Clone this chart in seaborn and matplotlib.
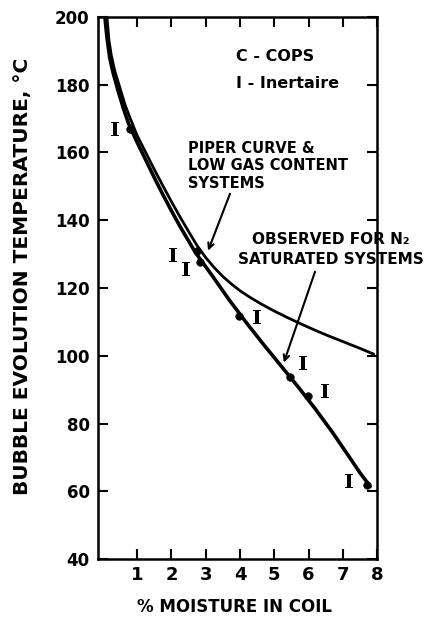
import matplotlib
matplotlib.use('Agg')
import matplotlib.pyplot as plt
import seaborn as sns

# Piper curve & low gas content systems (% moisture, deg C)
piper_x = [0.12, 0.18, 0.25, 0.35, 0.5, 0.65, 0.8, 1.0, 1.25, 1.5, 1.75, 2.0, 2.25, 2.5, 2.75,
           3.0, 3.25, 3.5, 3.75, 4.0, 4.3, 4.6, 5.0, 5.4, 5.8, 6.2, 6.6, 7.0, 7.45, 7.9]
piper_y = [200, 193, 188.5, 184, 179, 174, 170, 165, 160, 155, 150.2, 145.5, 141, 136.7, 132.5,
           129, 126, 123.4, 121.2, 119.2, 117.2, 115.4, 113.2, 111.2, 109.3, 107.5, 105.8, 104.2, 102.4, 100.5]

# observed for N2 saturated systems
n2_x = [0.06, 0.12, 0.2, 0.3, 0.45, 0.6, 0.75, 1.0, 1.25, 1.5, 1.75, 2.0, 2.25, 2.5, 2.7,
        3.2, 3.7, 4.2, 4.7, 5.2, 5.7, 6.2, 6.7, 7.2, 7.5, 7.8]
n2_y = [200, 194, 188, 183.5, 178, 173, 168.5, 163, 157.8, 152.6, 147.6, 142.8, 138.2, 133.9, 130.5,
        123.5, 116.3, 109.6, 103.2, 97, 90.8, 84.3, 77.4, 70, 65.5, 61.5]

# C = COPS (dots)
cops_x = [0.8, 2.75, 2.84, 3.98, 5.47, 5.99, 7.7]
cops_y = [167, 131, 127.7, 111.8, 93.8, 88, 62]

# I = Inertaire
inert_x = [0.36, 2.05, 2.43, 4.5, 5.84, 6.48, 7.18]
inert_y = [167, 129.8, 125.7, 111.3, 98, 89.7, 63]

x_ticks = [1, 2, 3, 4, 5, 6, 7, 8]
y_ticks = [40, 60, 80, 100, 120, 140, 160, 180, 200]

sns.set_style('ticks')
plt.rcParams['font.family'] = ['DejaVu Sans']
plt.rcParams['mathtext.fontset'] = 'dejavuserif'
plt.rcParams['text.color'] = 'black'
plt.rcParams['axes.labelcolor'] = 'black'
plt.rcParams['xtick.color'] = 'black'
plt.rcParams['ytick.color'] = 'black'

fig = plt.figure(figsize=(4.28, 6.22), dpi=100)
ax = fig.add_axes([0.229, 0.101, 0.652, 0.872])

sns.lineplot(x=piper_x, y=piper_y, color='black', lw=2.0, sort=False, ax=ax)
sns.lineplot(x=n2_x, y=n2_y, color='black', lw=2.6, sort=False, ax=ax)
sns.scatterplot(x=cops_x, y=cops_y, color='black', s=30, edgecolor='black', ax=ax, zorder=3)
sns.scatterplot(x=inert_x, y=inert_y, marker=r'$\mathbf{I}$', color='black', s=100,
                linewidth=0, ax=ax, zorder=3)

ax.set_xlim(-0.14, 8.0)
ax.set_ylim(40, 200)
ax.set_xticks(x_ticks)
ax.set_yticks(y_ticks)
ax.set_xticklabels([str(t) for t in x_ticks], fontsize=13, fontweight='bold')
ax.set_yticklabels([str(t) for t in y_ticks], fontsize=12, fontweight='bold')
ax.tick_params(axis='both', direction='in', top=True, right=True, length=7, width=1.5)
ax.tick_params(axis='y', pad=6)
ax.tick_params(axis='x', pad=5)
for sp in ax.spines.values():
    sp.set_visible(True)
    sp.set_linewidth(1.8)
    sp.set_color('black')

ax.set_xlabel('% MOISTURE IN COIL', fontsize=12, fontweight='bold')
ax.set_ylabel('BUBBLE EVOLUTION TEMPERATURE, °C', fontsize=14.5, fontweight='bold')
ax.xaxis.set_label_coords(0.49, -0.072)
ax.yaxis.set_label_coords(-0.235, 0.522)

# legend-like notes
ax.text(3.89, 188.2, 'C - COPS', fontsize=11.5, fontweight='bold', va='center')
ax.text(3.89, 180.2, 'I - Inertaire', fontsize=11.5, fontweight='bold', va='center')

ax.text(2.49, 163.4, 'PIPER CURVE &\nLOW GAS CONTENT\nSYSTEMS', fontsize=10.5,
        fontweight='bold', va='top', ha='left', linespacing=1.2)
ax.text(6.66, 136.6, 'OBSERVED FOR N₂\nSATURATED SYSTEMS', fontsize=11,
        fontweight='bold', va='top', ha='center', linespacing=1.45, clip_on=False)

ax.annotate('', xy=(3.07, 131), xytext=(3.71, 147.8),
            arrowprops=dict(arrowstyle='->', lw=1.5, color='black',
                            shrinkA=0, shrinkB=0, mutation_scale=10))
ax.annotate('', xy=(5.28, 98), xytext=(6.19, 124.8),
            arrowprops=dict(arrowstyle='->', lw=1.5, color='black',
                            shrinkA=0, shrinkB=0, mutation_scale=10))

fig.savefig('out.png', dpi=100, facecolor='white')
